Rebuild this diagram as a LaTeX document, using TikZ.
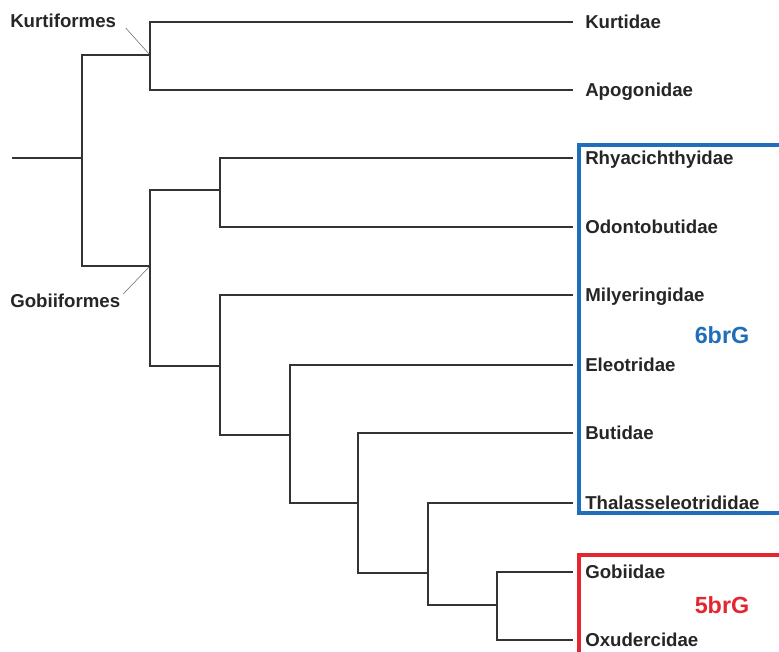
\documentclass[tikz,border=0pt]{standalone}
\usepackage{fontspec}
\setmainfont{Liberation Sans}
\usepackage{xcolor}
\usepackage{tikz}

\definecolor{boxblue}{RGB}{31,110,184}
\definecolor{boxred}{RGB}{227,38,47}

\tikzset{
  branch/.style={draw=black!80, line width=1pt},
  leader/.style={draw=black!60, line width=0.4pt},
  taxon/.style={anchor=west, inner xsep=9pt, inner ysep=0pt, text height=10pt, text depth=0pt, font=\fontsize{14}{16}\selectfont\bfseries, text=black!85},
  clade/.style={anchor=west, inner sep=0pt, text height=10pt, text depth=0pt, font=\fontsize{14}{16}\selectfont\bfseries, text=black!85},
  groupbox/.style={line width=3pt},
  grouplabel/.style={font=\fontsize{17.5}{20}\selectfont\bfseries}
}

\begin{document}
\begin{tikzpicture}[x=0.75pt,y=0.75pt,yscale=-1,xscale=1]

\useasboundingbox (0,0) rectangle (779,652);

% group boxes
\draw[groupbox, boxblue] (579,145) rectangle (781,513);
\draw[groupbox, boxred] (579,555) rectangle (781,655);

\node[grouplabel, text=boxblue] (sixbrg) at (722,335) {6brG};
\node[grouplabel, text=boxred] (fivebrg) at (722,605) {5brG};

% internal nodes
\coordinate (r0) at (12,158);
\coordinate (n0) at (82,158);
\coordinate (nK) at (150,55);
\coordinate (nG) at (150,266);
\coordinate (n1) at (220,190);
\coordinate (n2) at (220,366);
\coordinate (n3) at (290,435);
\coordinate (n4) at (358,503);
\coordinate (n5) at (428,573);
\coordinate (n6) at (497,605);

% tips
\node[taxon] (kurt) at (573,22) {Kurtidae};
\node[taxon] (apog) at (573,90) {Apogonidae};
\node[taxon] (rhya) at (573,158) {Rhyacichthyidae};
\node[taxon] (odon) at (573,227) {Odontobutidae};
\node[taxon] (mily) at (573,295) {Milyeringidae};
\node[taxon] (eleo) at (573,365) {Eleotridae};
\node[taxon] (buti) at (573,433) {Butidae};
\node[taxon] (thal) at (573,503) {Thalasseleotrididae};
\node[taxon] (gobi) at (573,572) {Gobiidae};
\node[taxon] (oxud) at (573,640) {Oxudercidae};

% clade names
\node[clade] (kurtif) at (10,21) {Kurtiformes};
\node[clade] (gobiif) at (10,301) {Gobiiformes};

\draw[leader] ([xshift=7pt]kurtif.south east) -- (nK);
\draw[leader] ([xshift=2pt]gobiif.north east) -- (nG);

% tree
\draw[branch] (r0) -- (n0);
\draw[branch] (n0) |- (nK);
\draw[branch] (n0) |- (nG);

\draw[branch] (nK) |- (kurt.west);
\draw[branch] (nK) |- (apog.west);

\draw[branch] (nG) |- (n1);
\draw[branch] (nG) |- (n2);

\draw[branch] (n1) |- (rhya.west);
\draw[branch] (n1) |- (odon.west);

\draw[branch] (n2) |- (mily.west);
\draw[branch] (n2) |- (n3);

\draw[branch] (n3) |- (eleo.west);
\draw[branch] (n3) |- (n4);

\draw[branch] (n4) |- (buti.west);
\draw[branch] (n4) |- (n5);

\draw[branch] (n5) |- (thal.west);
\draw[branch] (n5) |- (n6);

\draw[branch] (n6) |- (gobi.west);
\draw[branch] (n6) |- (oxud.west);

\end{tikzpicture}
\end{document}
